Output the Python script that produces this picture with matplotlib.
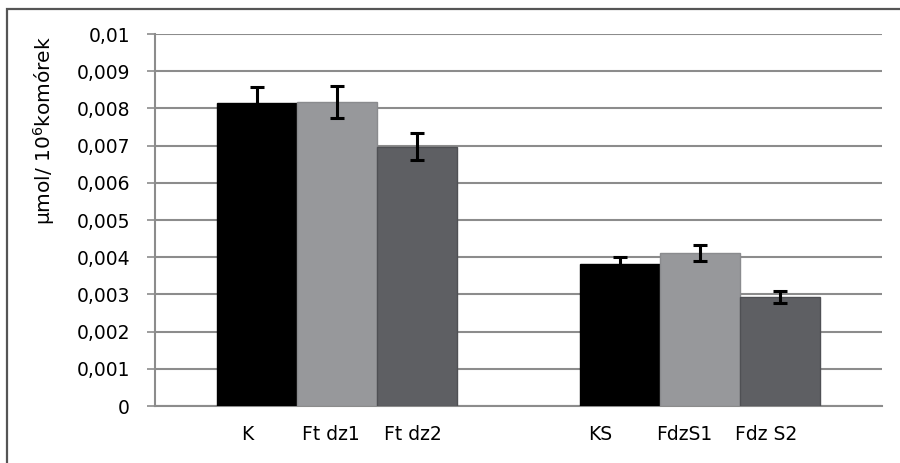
import numpy as np
import matplotlib
matplotlib.use("Agg")
import matplotlib.pyplot as plt
from matplotlib.patches import Rectangle
import matplotlib.transforms as mtransforms

# data
groups = ["K", "KS"]
labels = [["K", "Ft dz1", "Ft dz2"], ["KS", "FdzS1", "Fdz S2"]]
series1 = [0.00814, 0.00381]
series2 = [0.00818, 0.00412]
series3 = [0.00697, 0.00294]
err1 = [0.00043, 0.00020]
err2 = [0.00043, 0.00022]
err3 = [0.00036, 0.00016]
yticks = np.arange(0, 0.0101, 0.001)
ytick_labels = ["0"] + [f"{v:.3f}".replace(".", ",") for v in yticks[1:-1]] + ["0,01"]

colors = ["#000000", "#97989b", "#5e5f63"]
edges = ["#000000", "#8a8b8e", "#4f5054"]
# labels in the original sit a bit left of the bar centres (pixels)
label_shift = [[-10, -6, -4], [-20, -16, -14]]

plt.rcParams['font.family'] = ['DejaVu Sans']

fig = plt.figure(figsize=(9, 4.63), dpi=100)
ax = fig.add_axes([155 / 900, 57 / 463, 727 / 900, 372 / 463])

x = np.arange(len(groups))
w = 0.22
all_vals = [series1, series2, series3]
all_err = [err1, err2, err3]
for i, (vals, errs) in enumerate(zip(all_vals, all_err)):
    pos = x + (i - 1) * w
    ax.bar(pos, vals, width=w, color=colors[i], edgecolor=edges[i],
           linewidth=1, zorder=3)
    ax.errorbar(pos, vals, yerr=errs, fmt="none", ecolor="black",
                elinewidth=2.2, capsize=5, capthick=2.2, zorder=4)

ax.set_xlim(-0.5, 1.5)
ax.set_ylim(0, 0.01)
ax.set_yticks(yticks)
ax.set_yticklabels(ytick_labels, fontsize=13.5)
ax.yaxis.grid(True, color="#8c8c8c", linewidth=1.5, zorder=0)
ax.set_axisbelow(True)

ax.set_xticks([])
for g in range(len(groups)):
    for i in range(3):
        tr = ax.get_xaxis_transform() + mtransforms.ScaledTranslation(
            label_shift[g][i] / 100, -29 / 100, fig.dpi_scale_trans)
        ax.text(x[g] + (i - 1) * w, 0, labels[g][i], transform=tr,
                ha="center", va="center", fontsize=13.5)
ax.tick_params(axis="y", length=6, width=1.2, color="#8c8c8c", pad=12)

for s in ["top", "right"]:
    ax.spines[s].set_visible(False)
for s in ["left", "bottom"]:
    ax.spines[s].set_color("#8c8c8c")
    ax.spines[s].set_linewidth(1.5)

fig.text(44 / 900, 1 - 130 / 463, r"μmol/ 10$^6$komórek", rotation=90,
         ha="center", va="center", fontsize=14.5)

# outer frame (top and left edges visible)
fig.patches.append(Rectangle((7 / 900, -0.1), 1.2, 1 - 9 / 463 + 0.1,
                             transform=fig.transFigure, fill=False,
                             edgecolor="#555555", linewidth=1.6))

fig.savefig("out.png", dpi=100)
